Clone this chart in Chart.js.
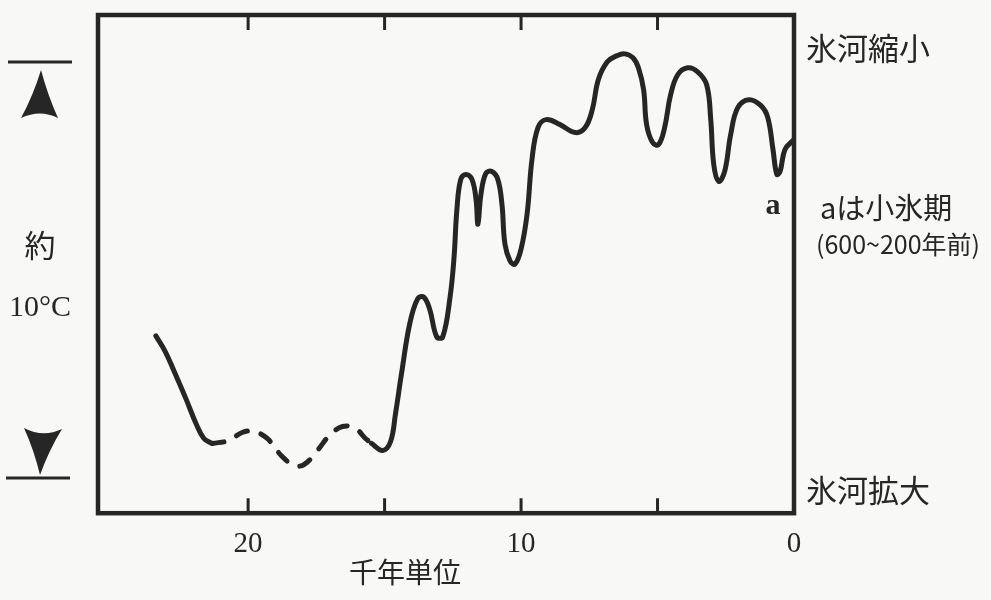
<!DOCTYPE html>
<html>
<head>
<meta charset="utf-8">
<script src="https://cdn.jsdelivr.net/npm/chart.js@4.4.0/dist/chart.umd.min.js"></script>
<style>
  html, body { margin: 0; padding: 0; background: #f8f8f7; }
  #wrap { width: 991px; height: 600px; position: relative; }
</style>
</head>
<body>
<div id="wrap"><canvas id="chart" width="991" height="600"></canvas></div>
<script>
// x: thousands of years ago, y: relative temperature (0 = bottom of frame, 500 = top)
const coldStartX = [23.38, 23.05, 22.72, 22.28, 21.91, 21.62, 21.32];
const coldStartY = [178, 163, 143, 115, 90, 75, 70];

// uncertain part, drawn dashed
const dashedX = [21.32, 20.70, 20.22, 19.78, 19.30, 18.79, 18.31, 17.94, 17.46, 17.02, 16.54, 16.07, 15.70, 15.48];
const dashedY = [70, 73, 81, 82, 75, 58, 48, 49, 63, 78, 87, 85, 75, 70];

const warmX = [15.48, 15.07, 14.78, 14.60, 14.38, 14.08, 13.79, 13.57, 13.35, 13.09, 12.87, 12.61, 12.46, 12.35,
  12.21, 12.02, 11.80, 11.65, 11.58, 11.47, 11.29, 11.07, 10.85, 10.70, 10.59, 10.40, 10.22, 10.00, 9.78, 9.60,
  9.38, 9.08, 8.57, 8.01, 7.65, 7.39, 7.17, 6.84, 6.50, 6.20, 5.90, 5.70, 5.51, 5.40, 5.18, 4.96, 4.74, 4.52, 4.26,
  3.90, 3.53, 3.20, 3.05, 2.94, 2.76, 2.54, 2.32, 2.06, 1.65, 1.21, 0.96, 0.77, 0.63, 0.51, 0.33, 0];
const warmY = [70, 63, 72, 100, 140, 190, 215, 217, 205, 177, 177, 215, 255, 305,
  335, 340, 335, 315, 290, 320, 341, 343, 335, 310, 270, 253, 250, 265, 300, 355,
  387, 395, 390, 382, 387, 405, 435, 453, 459, 461, 457, 447, 425, 390, 372, 370, 387, 420, 440,
  447, 443, 430, 395, 350, 333, 343, 380, 407, 415, 409, 397, 365, 340, 343, 365, 375];

const tickMarks = [5, 10, 15, 20];
const tickLabels = [0, 10, 20];

const ink = '#262626';

function toPoints(xs, ys) {
    return xs.map((x, i) => ({ x: x, y: ys[i] }));
}

const decorations = {
    id: 'decorations',
    afterDraw(chart) {
        const ctx = chart.ctx;
        const area = chart.chartArea;
        const xs = chart.scales.x;
        ctx.save();
        ctx.strokeStyle = ink;
        ctx.fillStyle = ink;

        // frame
        ctx.lineWidth = 4.5;
        ctx.strokeRect(area.left, area.top, area.right - area.left, area.bottom - area.top);

        // inward ticks top and bottom
        ctx.lineWidth = 3;
        tickMarks.forEach(v => {
            const px = xs.getPixelForValue(v);
            ctx.beginPath();
            ctx.moveTo(px, area.top);
            ctx.lineTo(px, area.top + 15);
            ctx.moveTo(px, area.bottom);
            ctx.lineTo(px, area.bottom - 15);
            ctx.stroke();
        });

        // left scale marker
        ctx.beginPath();
        ctx.moveTo(8, 62); ctx.lineTo(72, 62);
        ctx.moveTo(6, 478); ctx.lineTo(70, 478);
        ctx.stroke();

        // up arrowhead
        ctx.beginPath();
        ctx.moveTo(41, 70);
        ctx.quadraticCurveTo(33, 96, 21, 118);
        ctx.quadraticCurveTo(40, 109, 58, 118);
        ctx.quadraticCurveTo(48, 96, 41, 70);
        ctx.fill();
        // down arrowhead
        ctx.beginPath();
        ctx.moveTo(24, 428);
        ctx.quadraticCurveTo(43, 438, 62, 429);
        ctx.quadraticCurveTo(49, 450, 40, 475);
        ctx.quadraticCurveTo(34, 450, 24, 428);
        ctx.fill();

        ctx.textAlign = 'center';
        ctx.textBaseline = 'middle';
        ctx.font = '31px "Noto Sans CJK JP"';
        ctx.fillText('約', 40, 245);
        ctx.font = '30px "Liberation Serif"';
        ctx.fillText('10°C', 40, 308);

        ctx.textAlign = 'left';
        ctx.font = '31px "Noto Sans CJK JP"';
        ctx.fillText('氷河縮小', 806, 48);
        ctx.fillText('氷河拡大', 806, 490);

        ctx.textAlign = 'center';
        ctx.font = 'bold 30px "Liberation Serif"';
        ctx.fillText('a', 773, 206);

        ctx.textAlign = 'left';
        ctx.font = '29px "Noto Sans CJK JP"';
        ctx.fillText('aは小氷期', 820, 208);
        ctx.font = '25px "Noto Sans CJK JP"';
        ctx.fillText('(600~200年前)', 816, 244);

        ctx.textAlign = 'center';
        ctx.font = '28px "Noto Sans CJK JP"';
        ctx.fillText('千年単位', 405, 572);
        ctx.restore();
    }
};

const lineStyle = {
    borderColor: ink,
    borderWidth: 5,
    pointRadius: 0,
    tension: 0.4,
    borderCapStyle: 'round',
    borderJoinStyle: 'round',
    fill: false
};

new Chart(document.getElementById('chart').getContext('2d'), {
    type: 'line',
    data: {
        datasets: [
            Object.assign({ data: toPoints(coldStartX, coldStartY) }, lineStyle),
            Object.assign({ data: toPoints(dashedX, dashedY), borderDash: [12, 14] }, lineStyle),
            Object.assign({ data: toPoints(warmX, warmY) }, lineStyle)
        ]
    },
    options: {
        responsive: false,
        animation: false,
        layout: { padding: { left: 98, right: 197, top: 15, bottom: 24 } },
        plugins: { legend: { display: false }, tooltip: { enabled: false } },
        scales: {
            x: {
                type: 'linear',
                reverse: true,
                min: 0,
                max: 25.5,
                grid: { display: false, drawTicks: false },
                border: { display: false },
                ticks: {
                    stepSize: 5,
                    padding: 14,
                    autoSkip: false,
                    maxRotation: 0,
                    color: ink,
                    font: { family: 'Liberation Serif', size: 29 },
                    callback: v => tickLabels.includes(v) ? String(v) : ''
                }
            },
            y: { display: false, min: 0, max: 500 }
        }
    },
    plugins: [decorations]
});
</script>
</body>
</html>
